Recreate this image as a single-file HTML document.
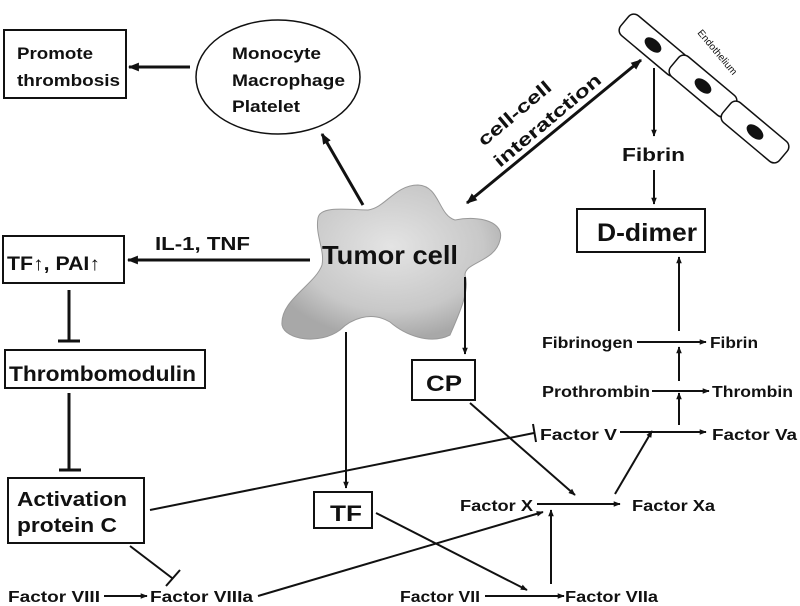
<!DOCTYPE html>
<html><head><style>
html,body{margin:0;padding:0;background:#fff;}
svg{display:block;font-family:"Liberation Sans",Arial,sans-serif;font-weight:bold;}
</style></head><body>
<svg width="800" height="606" viewBox="0 0 800 606" xmlns="http://www.w3.org/2000/svg">
<defs>
<marker id="a" viewBox="0 0 10 10" refX="9" refY="5" markerWidth="7" markerHeight="7" orient="auto-start-reverse" markerUnits="userSpaceOnUse"><path d="M0,1 L10,5 L0,9 z" fill="#111"/></marker>
<marker id="b" viewBox="0 0 10 10" refX="9" refY="5" markerWidth="11" markerHeight="11" orient="auto-start-reverse" markerUnits="userSpaceOnUse"><path d="M0,1 L10,5 L0,9 z" fill="#111"/></marker>
<radialGradient id="g" cx="50%" cy="40%" r="60%"><stop offset="0" stop-color="#e4e4e4"/><stop offset="0.7" stop-color="#c8c8c8"/><stop offset="1" stop-color="#a8a8a8"/></radialGradient>
</defs>
<g stroke="#111" fill="none">
<rect x="4" y="30" width="122" height="68" stroke-width="2"/>
<ellipse cx="278" cy="77" rx="82" ry="57" stroke-width="1.5"/>
<rect x="3" y="236" width="121" height="47" stroke-width="2"/>
<rect x="5" y="350" width="200" height="38" stroke-width="2"/>
<rect x="8" y="478" width="136" height="65" stroke-width="2"/>
<rect x="314" y="492" width="58" height="36" stroke-width="2"/>
<rect x="412" y="360" width="63" height="40" stroke-width="2"/>
<rect x="577" y="209" width="128" height="43" stroke-width="2"/>
</g>
<path d="M318,218 C320,205 350,210 368,210 C385,208 395,185 418,185 C440,186 438,215 455,220 C480,215 505,222 500,240 C495,262 465,262 465,275 C470,290 460,312 450,335 C430,345 405,335 390,322 C370,310 350,320 340,330 C320,345 285,340 282,325 C280,300 315,285 322,265 C325,250 315,235 318,218 Z" fill="url(#g)" stroke="#999" stroke-width="1"/>
<g stroke="#111" stroke-width="1.5" fill="#fff">
<g transform="translate(653,45) rotate(40)"><rect x="-37" y="-13" width="74" height="26" rx="7"/><ellipse cx="0" cy="0" rx="9" ry="5" fill="#111"/></g>
<g transform="translate(703,86) rotate(40)"><rect x="-37" y="-13" width="74" height="26" rx="7"/><ellipse cx="0" cy="0" rx="9" ry="5" fill="#111"/></g>
<g transform="translate(755,132) rotate(40)"><rect x="-37" y="-13" width="74" height="26" rx="7"/><ellipse cx="0" cy="0" rx="9" ry="5" fill="#111"/></g>
</g>
<text transform="translate(697,33) rotate(50)" font-size="10" font-weight="normal" fill="#111">Endothelium</text>
<g stroke="#111" fill="none">
<line x1="190" y1="67" x2="129" y2="67" stroke-width="3" marker-end="url(#b)"/>
<line x1="363" y1="205" x2="322" y2="134" stroke-width="3" marker-end="url(#b)"/>
<line x1="310" y1="260" x2="128" y2="260" stroke-width="3" marker-end="url(#b)"/>
<line x1="467" y1="203" x2="641" y2="60" stroke-width="3" marker-start="url(#b)" marker-end="url(#b)"/>
<line x1="69" y1="290" x2="69" y2="341" stroke-width="3"/><line x1="58" y1="341" x2="80" y2="341" stroke-width="3"/>
<line x1="69" y1="393" x2="69" y2="470" stroke-width="3"/><line x1="59" y1="470" x2="81" y2="470" stroke-width="3"/>
<line x1="150" y1="510" x2="534" y2="433" stroke-width="2"/><line x1="533" y1="424" x2="536" y2="442" stroke-width="2"/>
<line x1="130" y1="546" x2="172" y2="578" stroke-width="2"/><line x1="166" y1="586" x2="180" y2="570" stroke-width="2"/>
<line x1="104" y1="596" x2="147" y2="596" stroke-width="2" marker-end="url(#a)"/>
<line x1="258" y1="596" x2="543" y2="512" stroke-width="2" marker-end="url(#a)"/>
<line x1="346" y1="332" x2="346" y2="488" stroke-width="2" marker-end="url(#a)"/>
<line x1="376" y1="513" x2="527" y2="590" stroke-width="2" marker-end="url(#a)"/>
<line x1="485" y1="596" x2="564" y2="596" stroke-width="2" marker-end="url(#a)"/>
<line x1="551" y1="584" x2="551" y2="510" stroke-width="2" marker-end="url(#a)"/>
<line x1="465" y1="277" x2="465" y2="354" stroke-width="2" marker-end="url(#a)"/>
<line x1="470" y1="403" x2="575" y2="495" stroke-width="2" marker-end="url(#a)"/>
<line x1="537" y1="504" x2="620" y2="504" stroke-width="2" marker-end="url(#a)"/>
<line x1="615" y1="494" x2="652" y2="431" stroke-width="2" marker-end="url(#a)"/>
<line x1="620" y1="432" x2="706" y2="432" stroke-width="2" marker-end="url(#a)"/>
<line x1="679" y1="425" x2="679" y2="393" stroke-width="2" marker-end="url(#a)"/>
<line x1="652" y1="391" x2="709" y2="391" stroke-width="2" marker-end="url(#a)"/>
<line x1="679" y1="381" x2="679" y2="347" stroke-width="2" marker-end="url(#a)"/>
<line x1="637" y1="342" x2="706" y2="342" stroke-width="2" marker-end="url(#a)"/>
<line x1="679" y1="331" x2="679" y2="257" stroke-width="2" marker-end="url(#a)"/>
<line x1="654" y1="68" x2="654" y2="136" stroke-width="2" marker-end="url(#a)"/>
<line x1="654" y1="170" x2="654" y2="204" stroke-width="2" marker-end="url(#a)"/>
</g>
<g fill="#111" lengthAdjust="spacingAndGlyphs">
<text x="17" y="59" font-size="17" textLength="76" lengthAdjust="spacingAndGlyphs">Promote</text>
<text x="17" y="86" font-size="17" textLength="103" lengthAdjust="spacingAndGlyphs">thrombosis</text>
<text x="232" y="59" font-size="17" textLength="89" lengthAdjust="spacingAndGlyphs">Monocyte</text>
<text x="232" y="86" font-size="17" textLength="113" lengthAdjust="spacingAndGlyphs">Macrophage</text>
<text x="232" y="112" font-size="17" textLength="68" lengthAdjust="spacingAndGlyphs">Platelet</text>
<text x="155" y="250" font-size="18" textLength="95" lengthAdjust="spacingAndGlyphs">IL-1, TNF</text>
<text x="7" y="270" font-size="19" textLength="93" lengthAdjust="spacingAndGlyphs">TF↑, PAI↑</text>
<text x="322" y="264" font-size="26" textLength="136" lengthAdjust="spacingAndGlyphs">Tumor cell</text>
<text x="9" y="381" font-size="21" textLength="187" lengthAdjust="spacingAndGlyphs">Thrombomodulin</text>
<text x="17" y="506" font-size="20" textLength="110" lengthAdjust="spacingAndGlyphs">Activation</text>
<text x="17" y="532" font-size="20" textLength="100" lengthAdjust="spacingAndGlyphs">protein C</text>
<text x="330" y="521" font-size="22" textLength="32" lengthAdjust="spacingAndGlyphs">TF</text>
<text x="426" y="391" font-size="22" textLength="36" lengthAdjust="spacingAndGlyphs">CP</text>
<text x="597" y="241" font-size="25" textLength="100" lengthAdjust="spacingAndGlyphs">D-dimer</text>
<text x="622" y="161" font-size="18" textLength="63" lengthAdjust="spacingAndGlyphs">Fibrin</text>
<text transform="translate(484,147) rotate(-40)" font-size="18" textLength="90" lengthAdjust="spacingAndGlyphs">cell-cell</text>
<text transform="translate(500,168) rotate(-40)" font-size="18" textLength="134" lengthAdjust="spacingAndGlyphs">interatction</text>
<text x="542" y="348" font-size="16" textLength="91" lengthAdjust="spacingAndGlyphs">Fibrinogen</text>
<text x="710" y="348" font-size="16" textLength="48" lengthAdjust="spacingAndGlyphs">Fibrin</text>
<text x="542" y="397" font-size="16" textLength="108" lengthAdjust="spacingAndGlyphs">Prothrombin</text>
<text x="712" y="397" font-size="16" textLength="81" lengthAdjust="spacingAndGlyphs">Thrombin</text>
<text x="540" y="440" font-size="16" textLength="77" lengthAdjust="spacingAndGlyphs">Factor V</text>
<text x="712" y="440" font-size="16" textLength="85" lengthAdjust="spacingAndGlyphs">Factor Va</text>
<text x="460" y="511" font-size="16" textLength="73" lengthAdjust="spacingAndGlyphs">Factor X</text>
<text x="632" y="511" font-size="16" textLength="83" lengthAdjust="spacingAndGlyphs">Factor Xa</text>
<text x="8" y="602" font-size="16" textLength="92" lengthAdjust="spacingAndGlyphs">Factor VIII</text>
<text x="150" y="602" font-size="16" textLength="103" lengthAdjust="spacingAndGlyphs">Factor VIIIa</text>
<text x="400" y="602" font-size="16" textLength="80" lengthAdjust="spacingAndGlyphs">Factor VII</text>
<text x="565" y="602" font-size="16" textLength="93" lengthAdjust="spacingAndGlyphs">Factor VIIa</text>
</g>
</svg>
</body></html>
